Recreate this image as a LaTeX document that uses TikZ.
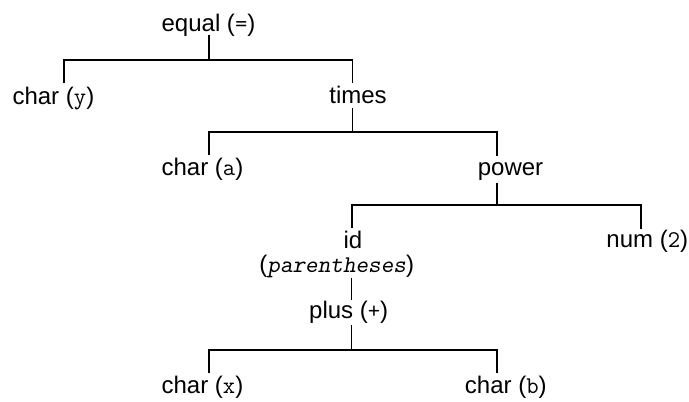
\documentclass[tikz,border=0pt]{standalone}
\usepackage{fontspec}
\setmainfont{Liberation Sans}
\begin{document}
\begin{tikzpicture}[x=1pt,y=-1pt,
  lbl/.style={anchor=base,inner sep=0pt,font=\fontsize{24}{28}\selectfont},
  edge/.style={draw=black,line width=1.1pt}]
\useasboundingbox (0,0) rectangle (689,402);
% labels
\node[lbl] (eq) at (208.5,31) {equal (\texttt{=})};
\node[lbl] (y) at (53.4,104) {char (\texttt{y})};
\node[lbl] (times) at (358,103) {times};
\node[lbl] (a) at (202.5,175) {char (\texttt{a})};
\node[lbl] (power) at (510.5,175) {power};
\node[lbl] (id) at (353,248) {id};
\node[lbl] (idp) at (336.7,272) {(\texttt{\slshape parentheses})};
\node[lbl] (num) at (647.3,247) {num (\texttt{2})};
\node[lbl] (plus) at (348.7,318) {plus (\texttt{+})};
\node[lbl] (x) at (202.5,393) {char (\texttt{x})};
\node[lbl] (b) at (505.8,393) {char (\texttt{b})};
% connection points
\coordinate (eq-out) at (209,35);
\coordinate (f1) at (209,60);
\coordinate (y-in) at (64,83);
\coordinate (times-in) at (352.7,83);
\coordinate (times-out) at (352.7,108);
\coordinate (f2) at (352.7,132);
\coordinate (a-in) at (209,155);
\coordinate (power-in) at (497,156);
\coordinate (power-out) at (497,183);
\coordinate (f3) at (497,205);
\coordinate (id-in) at (352,228);
\coordinate (num-in) at (641,229);
\coordinate (idp-out) at (351.7,278);
\coordinate (plus-in) at (351.7,300);
\coordinate (plus-out) at (351.7,325);
\coordinate (f4) at (351.7,350);
\coordinate (x-in) at (209,373);
\coordinate (b-in) at (497,373);
% connectors
\draw[edge] (eq-out) -- (f1);
\draw[edge] (y-in) |- (f1) -| (times-in);
\draw[edge] (times-out) -- (f2);
\draw[edge] (a-in) |- (f2) -| (power-in);
\draw[edge] (power-out) -- (f3);
\draw[edge] (id-in) |- (f3) -| (num-in);
\draw[edge] (idp-out) -- (plus-in);
\draw[edge] (plus-out) -- (f4);
\draw[edge] (x-in) |- (f4) -| (b-in);
\end{tikzpicture}
\end{document}
